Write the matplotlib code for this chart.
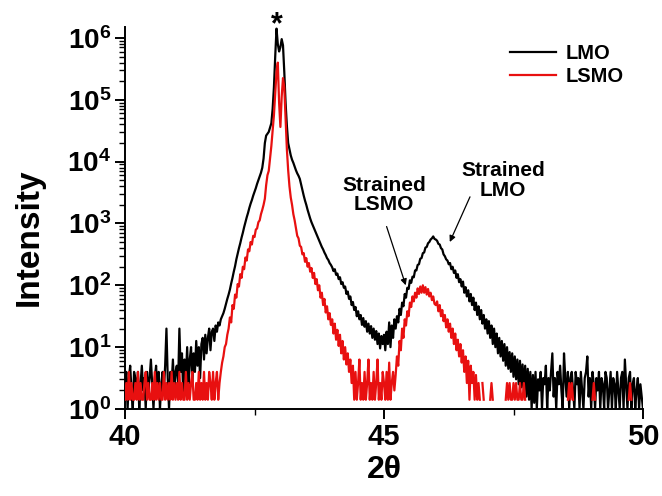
import numpy as np
import matplotlib
matplotlib.use("Agg")
import matplotlib.pyplot as plt
from matplotlib.ticker import LogLocator, NullFormatter, FixedLocator, FixedFormatter

plt.rcParams['font.family'] = ['Liberation Sans', 'DejaVu Sans']
plt.rcParams['font.weight'] = 'bold'
plt.rcParams['mathtext.fontset'] = 'custom'
plt.rcParams['mathtext.rm'] = 'Liberation Sans:bold'
plt.rcParams['mathtext.bf'] = 'Liberation Sans:bold'
plt.rcParams['mathtext.it'] = 'Liberation Sans:bold'

n = np.nan
# scan grid: 40 -> 50 deg, step 0.025
two_theta = np.round(40 + 0.025 * np.arange(401), 3)

# log10(intensity) of LMO, one row per degree
lmo_40 = [0.3,0.6,0.0,0.5,0.7,0.3,0.0,0.6,0.5,0.2, 0.6,0.0,0.4,0.7,0.3,0.5,0.0,0.6,0.3,0.5,
          0.8,0.4,0.0,0.5,0.7,0.3,0.6,0.0,0.4,0.6, 0.3,0.7,1.3,0.5,0.0,0.6,0.4,0.8,0.3,0.6]
lmo_41 = [0.7,0.4,1.3,0.6,0.9,0.2,0.8,0.5,1.0,0.4, 0.8,1.0,0.4,0.9,0.6,1.1,0.7,1.0,0.5,1.05,
          1.15,0.8,1.2,0.9,1.15,1.3,0.95,1.25,1.3,1.1, 1.35,1.25,1.4,1.35,1.45,1.5,1.55,1.62,1.7,1.78]
lmo_42 = [1.85,1.93,2.03,2.12,2.22,2.31,2.42,2.51,2.60,2.68, 2.77,2.85,2.94,3.02,3.10,3.17,3.25,3.32,3.38,3.45,
          3.51,3.57,3.64,3.70,3.76,3.82,3.90,4.05,4.30,4.42, 4.45,4.48,4.55,4.62,4.85,5.20,5.70,6.15,5.90,5.78]
lmo_43 = [5.85,5.98,5.88,5.45,4.95,4.58,4.30,4.20,4.10,4.03, 3.98,3.92,3.86,3.81,3.77,3.72,3.63,3.54,3.45,3.37,
          3.30,3.22,3.15,3.08,3.02,2.97,2.92,2.87,2.82,2.77, 2.72,2.67,2.62,2.58,2.53,2.49,2.44,2.41,2.36,2.33]
lmo_44 = [2.29,2.23,2.26,2.17,2.19,2.10,2.13,2.02,2.05,1.96, 1.98,1.86,1.90,1.78,1.82,1.68,1.73,1.60,1.65,1.50,
          1.58,1.45,1.52,1.36,1.47,1.33,1.42,1.25,1.38,1.22, 1.34,1.15,1.30,1.12,1.26,1.05,1.22,0.98,1.18,1.05]
lmo_45 = [1.20,0.95,1.25,1.05,1.40,1.00,1.35,1.15,1.45,1.30, 1.50,1.40,1.62,1.52,1.72,1.66,1.86,1.80,1.96,1.94,
          2.08,2.04,2.14,2.13,2.24,2.24,2.33,2.34,2.43,2.44, 2.52,2.53,2.61,2.62,2.68,2.70,2.74,2.76,2.79,2.75]
lmo_46 = [2.74,2.72,2.67,2.66,2.60,2.58,2.50,2.47,2.42,2.40, 2.34,2.36,2.26,2.30,2.20,2.24,2.12,2.18,2.05,2.10,
          1.98,2.06,1.88,1.97,1.82,1.92,1.74,1.86,1.68,1.80, 1.60,1.72,1.52,1.66,1.45,1.60,1.38,1.52,1.30,1.45]
lmo_47 = [1.22,1.42,1.15,1.35,1.05,1.30,1.00,1.22,0.90,1.15, 0.85,1.10,0.78,1.05,0.70,1.00,0.65,0.92,0.60,0.90,
          0.52,0.85,0.48,0.80,0.40,0.78,0.35,0.72,0.30,0.70, 0.20,0.65,0.15,0.60,0.00,0.55,0.10,0.60,0.00,0.48]
lmo_48 = [0.3,0.6,0.0,0.5,0.4,0.7,0.0,0.5,0.3,0.6, 0.9,0.2,0.5,0.0,0.6,0.4,0.7,0.3,0.0,0.9,
          0.5,0.2,0.6,0.0,0.5,0.6,0.3,0.0,0.6,0.4, 0.5,0.0,0.6,0.3,0.0,0.5,0.6,0.85,0.2,0.5]
lmo_49 = [0.0,0.6,0.4,0.0,0.5,0.3,0.6,0.0,0.5,0.4, 0.0,0.6,0.5,0.0,0.3,0.6,0.0,0.5,0.4,0.0,
          0.6,0.3,0.0,0.5,0.6,0.0,0.8,0.4,0.0,0.5, 0.6,0.0,0.4,0.5,0.0,0.3,0.5,0.0,0.4,0.2]
lmo_50 = [0.0]

# log10(intensity) of LSMO (nan = zero counts)
lsmo_40 = [0.15,0.42,0.15,0.6,0.15,0.42,0.15,0.15,0.42,0.15, 0.6,0.15,0.42,0.15,0.15,0.42,0.6,0.15,0.42,0.15,
           0.15,0.42,0.15,0.6,0.15,0.42,0.15,0.42,0.15,0.15, 0.6,0.15,0.42,0.15,0.42,0.15,0.6,0.15,0.42,0.15]
lsmo_41 = [0.42,0.15,0.6,0.15,0.42,0.15,0.15,0.6,0.15,0.42, 0.15,0.42,0.6,0.15,0.15,0.42,0.15,0.6,0.15,0.42,
           0.15,0.6,0.15,0.42,0.15,0.6,0.42,0.15,0.6,0.15, 0.42,0.6,0.15,0.42,0.6,0.75,0.85,1.0,1.05,1.2]
lsmo_42 = [1.30,1.48,1.40,1.68,1.62,1.85,1.80,2.02,1.98,2.18, 2.12,2.30,2.26,2.45,2.40,2.58,2.55,2.70,2.66,2.80,
           2.78,2.90,2.92,3.02,3.05,3.15,3.22,3.30,3.40,3.62, 3.78,3.85,4.05,4.25,4.50,4.75,5.10,5.45,5.60,4.95]
lsmo_43 = [4.56,5.05,5.35,5.20,4.70,4.20,3.86,3.60,3.42,3.30, 3.15,3.05,2.92,2.80,2.76,2.64,2.62,2.50,2.52,2.38,
           2.44,2.30,2.36,2.22,2.28,2.12,2.20,2.02,2.10,1.92, 2.00,1.80,1.88,1.68,1.78,1.56,1.66,1.45,1.55,1.36]
lsmo_44 = [1.45,1.22,1.38,1.12,1.28,1.02,1.20,0.90,1.10,0.80, 1.00,0.72,0.90,0.60,0.80,0.42,0.70,0.15,0.60,0.15,
           0.42,0.80,0.15,0.42,0.15,0.60,0.15,0.42,0.80,0.15, 0.42,0.15,0.60,0.15,0.42,0.80,0.15,0.42,0.15,0.60]
lsmo_45 = [0.42,0.15,0.60,0.15,0.75,0.15,0.42,0.60,0.30,0.55, 0.85,0.70,1.10,0.95,1.30,1.15,1.45,1.35,1.58,1.50,
           1.72,1.65,1.82,1.74,1.88,1.80,1.95,1.86,1.98,1.88, 2.00,1.88,1.97,1.85,1.94,1.82,1.88,1.76,1.82,1.70]
lsmo_46 = [1.68,1.74,1.58,1.68,1.50,1.60,1.42,1.52,1.32,1.45, 1.25,1.38,1.15,1.30,1.05,1.22,0.95,1.12,0.85,1.05,
           0.75,0.95,0.60,0.85,0.42,0.78,0.15,0.70,0.42,0.60, 0.15,0.55,0.15,0.42,0.15,n,0.42,0.15,n,0.15]
lsmo_47 = [n,n,0.15,0.42,0.15,n,n,n,n,n, n,n,n,n,0.15,0.42,0.15,0.42,0.15,0.15,
           0.42,0.15,0.42,0.15,0.15,0.42,0.15,0.15,0.42,0.15, n,n,n,n,n,n,n,n,n,n]
lsmo_48 = [n]*22 + [0.15,0.42,0.15,0.42,0.15] + [n]*13
lsmo_49 = [n,0.15,0.42,0.15] + [n]*25 + [0.15,0.42,0.15] + [n]*8
lsmo_50 = [n]

lmo_log = np.array(lmo_40+lmo_41+lmo_42+lmo_43+lmo_44+lmo_45+lmo_46+lmo_47+lmo_48+lmo_49+lmo_50)
lsmo_log = np.array(lsmo_40+lsmo_41+lsmo_42+lsmo_43+lsmo_44+lsmo_45+lsmo_46+lsmo_47+lsmo_48+lsmo_49+lsmo_50)
assert len(lmo_log) == 401 and len(lsmo_log) == 401

series_names = ["LMO", "LSMO"]
y_decades = [0, 1, 2, 3, 4, 5, 6]
x_ticks = [40, 45, 50]

fig = plt.figure(figsize=(6.62, 4.96), dpi=100)
ax = fig.add_axes([125/662, 1-409/496, (643-125)/662, (409-27)/496])

ax.plot(two_theta, 10**lmo_log, color='black', lw=1.6, label=series_names[0], zorder=2)
ax.plot(two_theta, 10**lsmo_log, color='#e81010', lw=1.6, label=series_names[1], zorder=3)

ax.set_yscale('log')
ax.set_xlim(40, 50)
ax.set_ylim(1, 1.5e6)

ax.yaxis.set_major_locator(FixedLocator([10.0**d for d in y_decades]))
ax.yaxis.set_major_formatter(FixedFormatter([r'$\mathbf{10^{%d}}$' % d for d in y_decades]))
ax.yaxis.set_minor_locator(LogLocator(base=10, subs=np.arange(2, 10), numticks=100))
ax.yaxis.set_minor_formatter(NullFormatter())
ax.xaxis.set_major_locator(FixedLocator(x_ticks))
ax.xaxis.set_major_formatter(FixedFormatter([str(t) for t in x_ticks]))
ax.xaxis.set_minor_locator(FixedLocator([42.5, 47.5]))

for s in ['top', 'right']:
    ax.spines[s].set_visible(False)
for s in ['left', 'bottom']:
    ax.spines[s].set_linewidth(1.4)
ax.tick_params(axis='y', which='major', direction='out', length=7, width=1.4,
               labelsize=20, pad=3)
ax.tick_params(axis='x', which='major', direction='out', length=7, width=1.4,
               labelsize=21, pad=3)
ax.tick_params(axis='both', which='minor', direction='out', length=4, width=1.0)
for lab in ax.get_xticklabels() + ax.get_yticklabels():
    lab.set_fontweight('bold')

ax.set_ylabel('Intensity', fontsize=24, fontweight='bold')
ax.yaxis.set_label_coords(-0.155, 0.45)
ax.set_xlabel('2θ', fontsize=23, fontweight='bold', labelpad=3)

leg = ax.legend(loc='upper left', bbox_to_anchor=(492/662, 1-26/496),
                bbox_transform=fig.transFigure, frameon=False,
                prop={'weight': 'bold', 'size': 14.5}, handlelength=2.3,
                handletextpad=0.45, labelspacing=0.2)

ax.text(42.93, 1.005, '*', transform=ax.get_xaxis_transform(), ha='center', va='center',
        fontsize=22, fontweight='bold')

ax.text(45.0, 10**3.46, 'Strained\nLSMO', ha='center', va='center', fontsize=15,
        fontweight='bold', linespacing=1.05)
ax.text(47.3, 10**3.70, 'Strained\nLMO', ha='center', va='center', fontsize=15,
        fontweight='bold', linespacing=1.05)
ax.annotate('', xy=(45.42, 10**2.0), xytext=(45.05, 10**2.95),
            arrowprops=dict(arrowstyle='-|>', color='black', lw=0.9, shrinkA=0,
                            shrinkB=0, mutation_scale=9))
ax.annotate('', xy=(46.27, 10**2.70), xytext=(46.66, 10**3.43),
            arrowprops=dict(arrowstyle='-|>', color='black', lw=0.9, shrinkA=0,
                            shrinkB=0, mutation_scale=9))

fig.savefig('out.png', dpi=100)
